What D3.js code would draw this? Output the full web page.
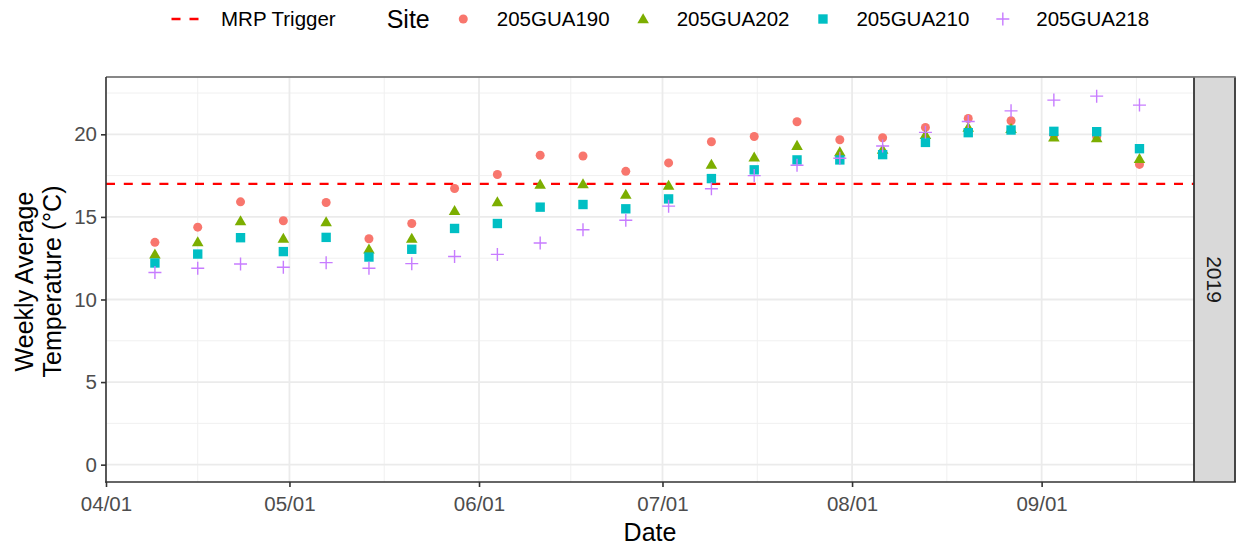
<!DOCTYPE html>
<html>
<head>
<meta charset="utf-8">
<script src="https://cdn.jsdelivr.net/npm/d3@7"></script>
<style>
  html, body { margin: 0; padding: 0; background: #ffffff; }
  svg { display: block; font-family: "Liberation Sans", Arial, sans-serif; }
</style>
</head>
<body>
<svg id="chart" width="1238" height="548"></svg>
<script>
// Weekly sampling dates (2019)
const sampleDates = [
  "2019-04-09", "2019-04-16", "2019-04-23", "2019-04-30",
  "2019-05-07", "2019-05-14", "2019-05-21", "2019-05-28",
  "2019-06-04", "2019-06-11", "2019-06-18", "2019-06-25",
  "2019-07-02", "2019-07-09", "2019-07-16", "2019-07-23",
  "2019-07-30", "2019-08-06", "2019-08-13", "2019-08-20",
  "2019-08-27", "2019-09-03", "2019-09-10", "2019-09-17"
];

const siteNames = ["205GUA190", "205GUA202", "205GUA210", "205GUA218"];

// Weekly average temperature (°C) per site
const temp190 = [13.46, 14.38, 15.91, 14.77, 15.87, 13.68, 14.60, 16.72, 17.57, 18.73, 18.69, 17.76,
                 18.27, 19.55, 19.87, 20.76, 19.67, 19.79, 20.42, 20.96, 20.82, 19.95, 19.85, 18.18];
const temp202 = [12.68, 13.42, 14.69, 13.64, 14.64, 12.98, 13.64, 15.31, 15.84, 16.90, 16.94, 16.30,
                 16.84, 18.11, 18.55, 19.26, 18.88, 19.03, 19.92, 20.36, 20.28, 19.77, 19.72, 18.47];
const temp210 = [12.21, 12.75, 13.74, 12.90, 13.76, 12.57, 13.04, 14.30, 14.60, 15.59, 15.75, 15.49,
                 16.09, 17.32, 17.85, 18.45, 18.45, 18.77, 19.51, 20.10, 20.26, 20.18, 20.16, 19.13];
const temp218 = [11.63, 11.89, 12.15, 11.95, 12.23, 11.89, 12.17, 12.60, 12.73, 13.42, 14.22, 14.80,
                 15.65, 16.70, 17.50, 18.13, 18.55, 19.29, 20.12, 20.78, 21.42, 22.07, 22.31, 21.77];

const mrpTrigger = 17;
const facetLabel = "2019";

const yTicks = [0, 5, 10, 15, 20];
const yMinorTicks = [2.5, 7.5, 12.5, 17.5, 22.5];
const xTickDates = ["2019-04-01", "2019-05-01", "2019-06-01", "2019-07-01", "2019-08-01", "2019-09-01"];
const xDomainDates = ["2019-04-01", "2019-09-25T22:00"];
const yDomain = [-1.05, 23.47];

const siteColors = ["#F8766D", "#7CAE00", "#00BFC4", "#C77CFF"];

// ---- layout ----
const panel = { left: 106, right: 1194, top: 77, bottom: 482 };
const strip = { left: 1194, right: 1235 };

const parse = d3.utcParse("%Y-%m-%d");
const parseT = d3.utcParse("%Y-%m-%dT%H:%M");
const toDate = s => parse(s) || parseT(s);

const svg = d3.select("#chart");

const x = d3.scaleUtc()
  .domain(xDomainDates.map(toDate))
  .range([panel.left, panel.right]);
const y = d3.scaleLinear()
  .domain(yDomain)
  .range([panel.bottom, panel.top]);

const seriesValues = [temp190, temp202, temp210, temp218];
const rows = [];
sampleDates.forEach((ds, i) => {
  siteNames.forEach((s, k) => {
    rows.push({ date: toDate(ds), site: s, k: k, value: seriesValues[k][i] });
  });
});

// ---- panel background and grid ----
const g = svg.append("g");
g.append("rect")
  .attr("x", panel.left).attr("y", panel.top)
  .attr("width", panel.right - panel.left).attr("height", panel.bottom - panel.top)
  .attr("fill", "#ffffff");

const xMajor = xTickDates.map(toDate);
const xMinor = [];
for (let i = 0; i < xMajor.length - 1; i++) {
  xMinor.push(new Date((+xMajor[i] + +xMajor[i + 1]) / 2));
}
const last = xMajor[xMajor.length - 1], prev = xMajor[xMajor.length - 2];
xMinor.push(new Date(+last + (last - prev) / 2));

const grid = g.append("g");
grid.selectAll(".ymin").data(yMinorTicks).join("line")
  .attr("x1", panel.left).attr("x2", panel.right)
  .attr("y1", d => y(d)).attr("y2", d => y(d))
  .attr("stroke", "#f0f0f0").attr("stroke-width", 1);
grid.selectAll(".xmin").data(xMinor).join("line")
  .attr("x1", d => x(d)).attr("x2", d => x(d))
  .attr("y1", panel.top).attr("y2", panel.bottom)
  .attr("stroke", "#f0f0f0").attr("stroke-width", 1);
grid.selectAll(".ymaj").data(yTicks).join("line")
  .attr("x1", panel.left).attr("x2", panel.right)
  .attr("y1", d => y(d)).attr("y2", d => y(d))
  .attr("stroke", "#ebebeb").attr("stroke-width", 1.8);
grid.selectAll(".xmaj").data(xMajor).join("line")
  .attr("x1", d => x(d)).attr("x2", d => x(d))
  .attr("y1", panel.top).attr("y2", panel.bottom)
  .attr("stroke", "#ebebeb").attr("stroke-width", 1.8);

// ---- MRP trigger line ----
g.append("line")
  .attr("x1", panel.left).attr("x2", panel.right)
  .attr("y1", y(mrpTrigger)).attr("y2", y(mrpTrigger))
  .attr("stroke", "#FF0000").attr("stroke-width", 2.4)
  .attr("stroke-dasharray", "9,8.8");

// ---- point symbols ----
const plusType = {
  draw(context, size) {
    const h = Math.sqrt(size) / 2;
    context.moveTo(-h, 0); context.lineTo(h, 0);
    context.moveTo(0, -h); context.lineTo(0, h);
  }
};
const symbolTypes = [d3.symbolCircle, d3.symbolTriangle, d3.symbolSquare, plusType];
const symbolSizes = [Math.PI * 4.5 * 4.5, 58, 88, 169];
const symbolGen = k => d3.symbol().type(symbolTypes[k]).size(symbolSizes[k])();

function styleSymbol(sel, k) {
  if (k === 3) {
    sel.attr("fill", "none").attr("stroke", siteColors[k]).attr("stroke-width", 1.4);
  } else {
    sel.attr("fill", siteColors[k]).attr("stroke", "none");
  }
}

const pts = g.append("g");
rows.forEach(r => {
  const p = pts.append("path")
    .attr("d", symbolGen(r.k))
    .attr("transform", `translate(${x(r.date)},${y(r.value)})`);
  styleSymbol(p, r.k);
});

// ---- panel border / axis lines ----
g.append("line")
  .attr("x1", panel.left).attr("x2", strip.right)
  .attr("y1", panel.top).attr("y2", panel.top)
  .attr("stroke", "#7f7f7f").attr("stroke-width", 1.6);

// ---- facet strip ----
g.append("rect")
  .attr("x", strip.left).attr("y", panel.top)
  .attr("width", strip.right - strip.left).attr("height", panel.bottom - panel.top)
  .attr("fill", "#d9d9d9");
g.append("line")
  .attr("x1", strip.left).attr("x2", strip.left)
  .attr("y1", panel.top).attr("y2", panel.bottom)
  .attr("stroke", "#333333").attr("stroke-width", 1.8);
g.append("line")
  .attr("x1", strip.right).attr("x2", strip.right)
  .attr("y1", panel.top).attr("y2", panel.bottom)
  .attr("stroke", "#333333").attr("stroke-width", 1.8);
g.append("line")
  .attr("x1", panel.left).attr("x2", strip.right + 0.9)
  .attr("y1", panel.top).attr("y2", panel.top)
  .attr("stroke", "#7f7f7f").attr("stroke-width", 1.6);
g.append("line")
  .attr("x1", strip.left).attr("x2", strip.right + 0.9)
  .attr("y1", panel.bottom).attr("y2", panel.bottom)
  .attr("stroke", "#333333").attr("stroke-width", 1.6);
g.append("text")
  .attr("transform", `translate(${(strip.left + strip.right) / 2},${(panel.top + panel.bottom) / 2}) rotate(90)`)
  .attr("text-anchor", "middle").attr("dy", "0.35em")
  .attr("font-size", 21).attr("fill", "#1a1a1a")
  .text(facetLabel);

// ---- axes ----
const yAxis = d3.axisLeft(y).tickValues(yTicks).tickSize(5).tickPadding(4).tickFormat(d3.format("d"));
const yG = svg.append("g").attr("transform", `translate(${panel.left},0)`).call(yAxis);
const xAxis = d3.axisBottom(x).tickValues(xMajor).tickSize(5).tickPadding(5).tickFormat(d3.utcFormat("%m/%d"));
const xG = svg.append("g").attr("transform", `translate(0,${panel.bottom})`).call(xAxis);

[yG, xG].forEach(a => {
  a.select(".domain").remove();
  a.selectAll(".tick line").attr("stroke", "#333333").attr("stroke-width", 1.6);
  a.selectAll(".tick text").attr("fill", "#4d4d4d").attr("font-size", 20.5)
    .attr("font-family", "Liberation Sans, Arial, sans-serif");
});
xG.selectAll(".tick text").attr("dy", null).attr("y", 29);

svg.append("line")
  .attr("x1", panel.left).attr("x2", panel.left)
  .attr("y1", panel.top).attr("y2", panel.bottom + 0.8)
  .attr("stroke", "#333333").attr("stroke-width", 1.6);
svg.append("line")
  .attr("x1", panel.left - 0.8).attr("x2", panel.right)
  .attr("y1", panel.bottom).attr("y2", panel.bottom)
  .attr("stroke", "#333333").attr("stroke-width", 1.6);

// ---- axis titles ----
svg.append("text")
  .attr("x", (panel.left + panel.right) / 2).attr("y", 541)
  .attr("text-anchor", "middle").attr("font-size", 25).attr("fill", "#000")
  .text("Date");

const yTitleLines = ["Weekly Average", "Temperature (°C)"];
const yTitleBase = [33, 61];
yTitleLines.forEach((t, i) => {
  svg.append("text")
    .attr("transform", `translate(${yTitleBase[i]},${(panel.top + panel.bottom) / 2 + 2}) rotate(-90)`)
    .attr("text-anchor", "middle").attr("font-size", 25).attr("fill", "#000")
    .text(t);
});

// ---- legend ----
const legend = svg.append("g");
const legendY = 19;
const legendFont = 20.5;
let cx = 185.5;
// dashed key
legend.append("line")
  .attr("x1", cx - 14).attr("x2", cx + 14)
  .attr("y1", legendY).attr("y2", legendY)
  .attr("stroke", "#FF0000").attr("stroke-width", 2.4)
  .attr("stroke-dasharray", "9,9");
let tx = legend.append("text")
  .attr("x", cx + 35.5).attr("y", legendY).attr("dy", "0.36em")
  .attr("font-size", legendFont).attr("fill", "#000")
  .text("MRP Trigger");
let endX = cx + 35.5 + tx.node().getComputedTextLength();

const title = legend.append("text")
  .attr("x", endX + 51).attr("y", legendY).attr("dy", "0.36em")
  .attr("font-size", 25).attr("fill", "#000")
  .text("Site");
endX = endX + 51 + title.node().getComputedTextLength();

siteNames.forEach((s, k) => {
  const kx = endX + 33.5;
  const p = legend.append("path")
    .attr("d", symbolGen(k))
    .attr("transform", `translate(${kx},${legendY + (k === 1 ? 1 : 0)})`);
  styleSymbol(p, k);
  const t = legend.append("text")
    .attr("x", kx + 33.5).attr("y", legendY).attr("dy", "0.36em")
    .attr("font-size", legendFont).attr("fill", "#000")
    .text(s);
  endX = kx + 33.5 + t.node().getComputedTextLength();
});
</script>
</body>
</html>
